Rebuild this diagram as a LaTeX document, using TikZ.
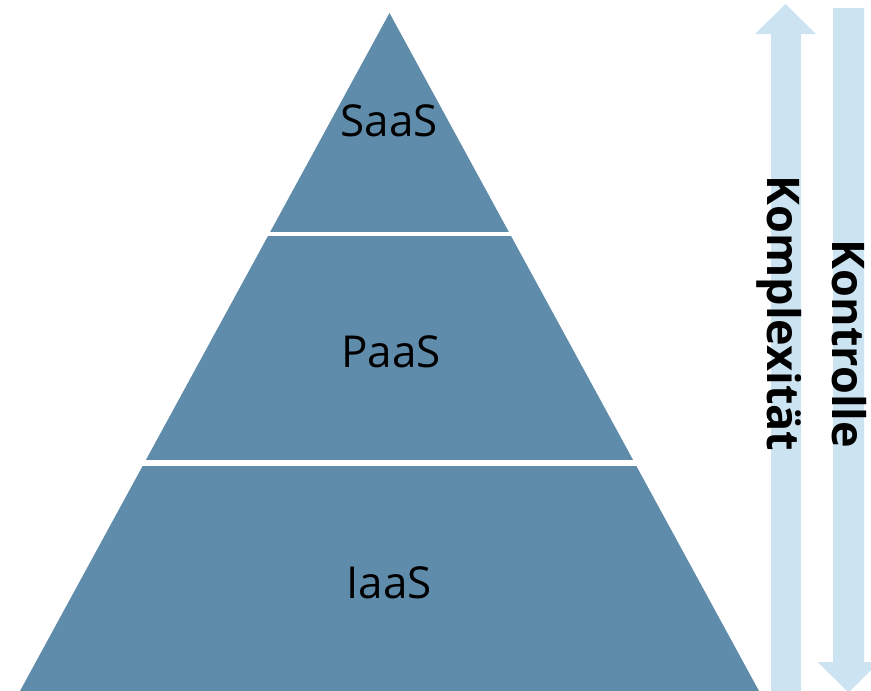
\documentclass[tikz,border=0pt]{standalone}
\usepackage{fontspec}
\setmainfont{Open Sans}
\definecolor{pyr}{RGB}{96,140,171}
\definecolor{arr}{RGB}{204,228,242}
\begin{document}
\begin{tikzpicture}[x=1pt,y=-1pt,
  layer/.style={font=\fontsize{44}{52}\selectfont, text=black, anchor=base, inner sep=0pt},
  vlabel/.style={font=\fontsize{45}{53}\selectfont\bfseries, text=black, anchor=base, inner sep=0pt, rotate=-90},
  gap/.style={draw=white}]
\useasboundingbox (0,0) rectangle (871,691);
\begin{scope}
\clip (0,0) rectangle (871,691);
% pyramid
\fill[pyr] (389.5,13) -- (20,691) -- (759,691) -- cycle;
\draw[gap, line width=4pt] (200,233.5) -- (580,233.5);
\draw[gap, line width=6pt] (100,463.3) -- (680,463.3);
% arrows
\fill[arr] (785.5,4) -- (816,34) -- (801,34) -- (801,700) -- (771,700) -- (771,34) -- (755,34) -- cycle;
\fill[arr] (833,8) -- (864,8) -- (864,662) -- (879,662) -- (848.5,692.5) -- (817.5,662) -- (833,662) -- cycle;
\end{scope}
\node[layer] (saas) at (389,136) {SaaS};
\node[layer] (paas) at (391,367) {PaaS};
\node[layer] (iaas) at (389,598) {IaaS};
\node[vlabel] (komp) at (767,313.5) {Komplexität};
\node[vlabel] (kont) at (832,344) {Kontrolle};
\end{tikzpicture}
\end{document}
